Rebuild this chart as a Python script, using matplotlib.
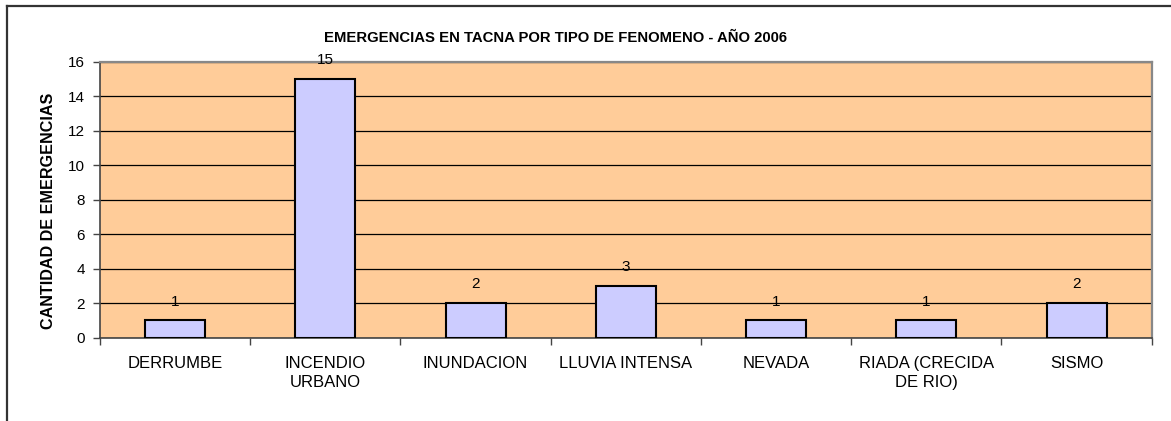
import matplotlib
matplotlib.use("Agg")
import matplotlib.pyplot as plt
from matplotlib.lines import Line2D

categories = ["DERRUMBE", "INCENDIO\nURBANO", "INUNDACION", "LLUVIA INTENSA",
              "NEVADA", "RIADA (CRECIDA\nDE RIO)", "SISMO"]
values = [1, 15, 2, 3, 1, 1, 2]
yticks = [0, 2, 4, 6, 8, 10, 12, 14, 16]
title = "EMERGENCIAS EN TACNA POR TIPO DE FENOMENO - AÑO 2006"
ylabel = "CANTIDAD DE EMERGENCIAS"

plt.rcParams['font.family'] = ['Liberation Sans', 'DejaVu Sans']

W, H = 1171, 421
fig = plt.figure(figsize=(W / 100, H / 100), dpi=100)
left, right, top, bottom = 100, 1151.7, 61.5, 337.7
ax = fig.add_axes([left / W, 1 - bottom / H, (right - left) / W, (bottom - top) / H])
ax.set_facecolor("#FFCC99")

x = list(range(len(categories)))
ax.bar(x, values, width=0.4, color="#CCCCFF", edgecolor="black", linewidth=1.5, zorder=3)
for xi, v in zip(x, values):
    ax.annotate(str(v), (xi, v), xytext=(0, 13.5), textcoords="offset points",
                ha="center", va="center", fontsize=11, zorder=4)

ax.set_xlim(-0.5, len(categories) - 0.5)
ax.set_ylim(0, 16)
ax.set_yticks(yticks)
ax.yaxis.grid(True, color="black", linewidth=0.9, zorder=1)
ax.set_axisbelow(True)
ax.set_xticks([i + 0.5 for i in range(-1, len(categories))], minor=False)
ax.set_xticklabels([])
ax.set_xticks(x, minor=True)
ax.set_xticklabels(categories, minor=True, fontsize=12, linespacing=1.3)
ax.tick_params(axis="x", which="major", length=5, width=1, color="#444444")
ax.tick_params(axis="x", which="minor", length=0, pad=13.5)
ax.tick_params(axis="y", length=5, width=1, color="#444444", labelsize=11, pad=6)

for s in ["top", "right"]:
    ax.spines[s].set_color("#888888")
    ax.spines[s].set_linewidth(1.6)
for s in ["left", "bottom"]:
    ax.spines[s].set_color("#444444")
    ax.spines[s].set_linewidth(1.2)

ax.set_ylabel(ylabel, fontsize=11.6, fontweight="bold")
ax.yaxis.set_label_coords(49 / W, 0.5, transform=fig.transFigure)
ax.yaxis.label.set_va("center")
fig.text(556 / W, 1 - 38.5 / H, title, ha="center", va="center",
         fontsize=10.7, fontweight="bold")

# chart border (left and top visible)
fig.add_artist(Line2D([6.7 / W, 6.7 / W], [0, 1 - 6.3 / H], transform=fig.transFigure,
                      color="#333333", linewidth=1.6))
fig.add_artist(Line2D([6.7 / W, 1], [1 - 6.3 / H, 1 - 6.3 / H], transform=fig.transFigure,
                      color="#333333", linewidth=1.6))

fig.savefig("out.png", dpi=100)
